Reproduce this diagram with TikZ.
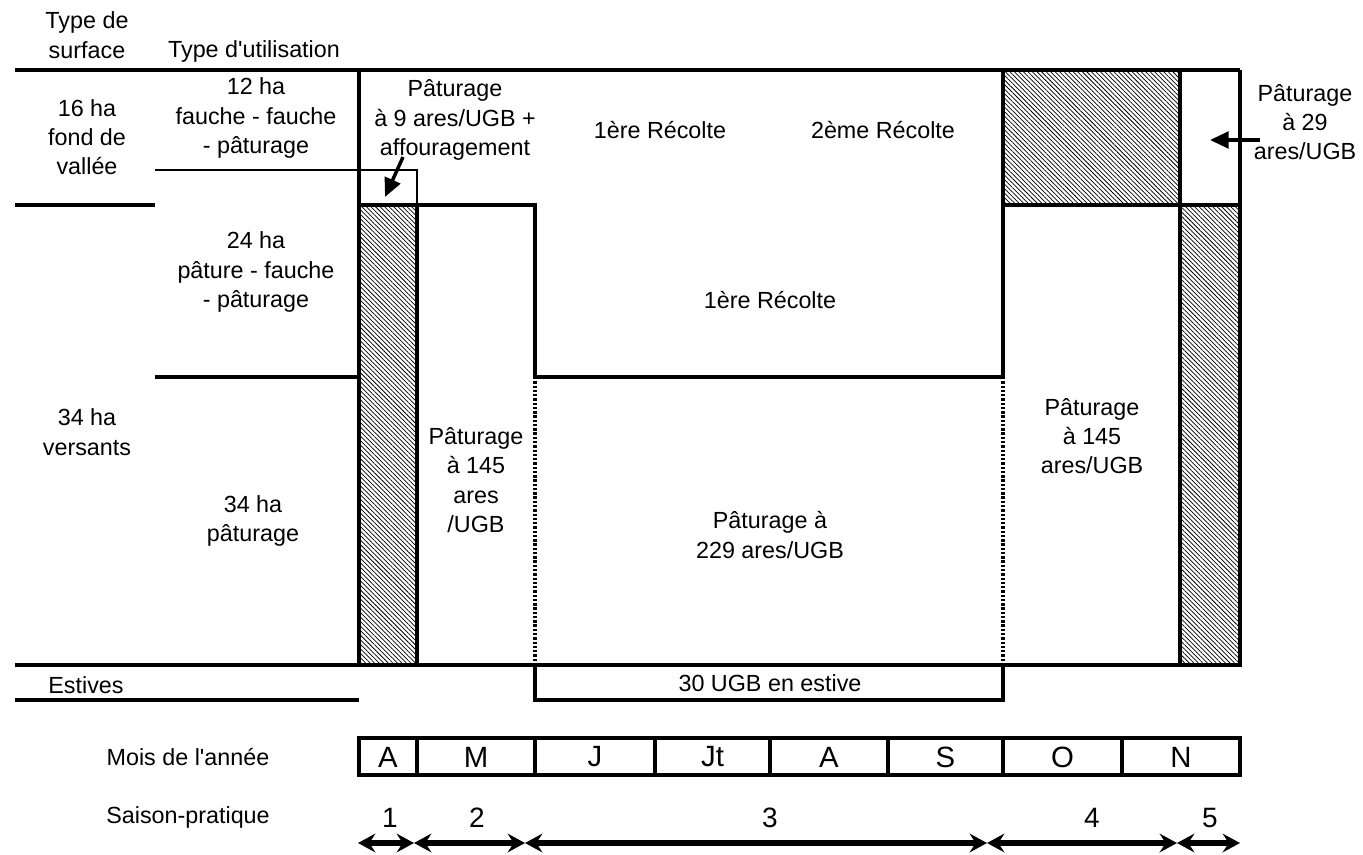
\documentclass[tikz,border=0pt]{standalone}
\usepackage{fontspec}
\setmainfont{Liberation Sans}
\usetikzlibrary{positioning, calc, arrows.meta, patterns.meta}
\definecolor{ink}{HTML}{000000}
\definecolor{paper}{HTML}{FFFFFF}
\newcommand{\LabF}{\fontsize{17.5}{22}\selectfont}
\newcommand{\MonthF}{\fontsize{22}{26}\selectfont}
\newcommand{\NumF}{\fontsize{21}{25}\selectfont}
\newcommand{\hatchbox}[4]{%
  \draw[ink, line width=2.7pt, pattern={Lines[angle=-45, distance=2.4pt, line width=0.55pt]}, pattern color=ink] (#1,#2) rectangle (#3,#4);
}
\tikzset{
  lab/.style={font=\LabF, text=ink, align=center, inner sep=0pt},
  heavy/.style={ink, line width=2.7pt},
  light/.style={ink, line width=2pt},
  dots/.style={ink, line width=2.7pt, dash pattern=on 1.8pt off 1.4pt},
  season/.style={ink, line width=3.8pt, {Stealth[length=13pt, width=14pt, inset=4.5pt]}-{Stealth[length=13pt, width=14pt, inset=4.5pt]}},
  pointer/.style={ink, line width=2.6pt, -{Triangle[length=14pt, width=12.5pt]}},
}

\begin{document}
\begin{tikzpicture}[x=0.75pt,y=-0.75pt]
\useasboundingbox[fill=paper] (0,0) rectangle (1363,854);
% headers and row labels
\node[lab] (hdSurf) at (87,35) {Type de\\surface};
\node[lab] (hdUse) at (254,51) {Type d\textquotesingle utilisation};
\node[lab] (fond16) at (87,137) {16 ha\\fond de\\vallée};
\node[lab] (fauche12) at (256,118) {12 ha\\fauche - fauche\\- pâturage};
\node[lab] (pature24) at (256,272) {24 ha\\pâture - fauche\\- pâturage};
\node[lab] (vers34) at (87,432) {34 ha\\versants};
\node[lab] (pat34) at (253,521) {34 ha\\pâturage};
\node[lab] (estives) at (86,685) {Estives};
% grid
\draw[heavy] (15,70) -- (1240,70);
\draw[heavy] (15,665) -- (1240,665);
\draw[heavy] (15,205) -- (155,205);
\draw[light] (155,170) -- (417,170) -- (417,205);
\draw[heavy] (155,377) -- (359,377);
\draw[heavy] (359,70) -- (359,665);
\draw[heavy] (359,205) -- (535,205) -- (535,377) -- (1003,377);
\draw[heavy] (1003,70) -- (1003,377);
\draw[dots] (535,377) -- (535,665);
\draw[dots] (1003,377) -- (1003,665);
\draw[heavy] (1003,205) -- (1240,205);
\draw[heavy] (1180,70) -- (1180,665);
\draw[heavy] (1240,70) -- (1240,665);
\hatchbox{359}{205}{417}{665}
\hatchbox{1003}{70}{1180}{205}
\hatchbox{1180}{205}{1240}{665}
\draw[heavy] (15,700) -- (359,700);
\draw[heavy] (535,665) rectangle (1003,700);
% cell texts
\node[lab] (pat9) at (455,120) {Pâturage\\à 9 ares/UGB +\\affouragement};
\node[lab] (recA) at (660,130) {1ère Récolte};
\node[lab] (recB) at (883,130) {2ème Récolte};
\node[lab] (pat29) at (1305,122) {Pâturage\\à 29\\ares/UGB};
\node[lab] (recC) at (770,300) {1ère Récolte};
\node[lab] (pat145a) at (476,480) {Pâturage\\à 145\\ares\\/UGB};
\node[lab] (pat229) at (770,535) {Pâturage à\\229 ares/UGB};
\node[lab] (pat145b) at (1092,436) {Pâturage\\à 145\\ares/UGB};
\node[lab] (estive30) at (770,683) {30 UGB en estive};
\coordinate (affTail) at (403,157);
\coordinate (affTip) at (385,197);
\draw[pointer] (affTail) -- (affTip);
\coordinate (tailB) at (1260,140);
\coordinate (tipB) at (1210,140);
\draw[pointer] (tailB) -- (tipB);
% months
\node[lab] (moisLab) at (188,757) {Mois de l\textquotesingle année};
\foreach \xa/\xb/\m [count=\i] in {359/417/A, 417/535/M, 535/655/J, 655/770/Jt, 770/888/A, 888/1003/S, 1003/1122/O, 1122/1240/N}{
  \draw[heavy] (\xa,738) rectangle (\xb,775);
  \node[font=\MonthF, text=ink, inner sep=0pt] (m\i) at ({(\xa+\xb)/2},757) {\m};
}
% seasons
\node[lab] (saisLab) at (188,817) {Saison-pratique};
\foreach \xa/\xb/\xn [count=\i] in {358/414/390, 414/525/477, 525/987/770, 987/1177/1092, 1177/1240/1210}{
  \coordinate (sa\i) at (\xa,843);
  \coordinate (sb\i) at (\xb,843);
  \draw[season] (sa\i) -- (sb\i);
  \node[font=\NumF, text=ink, inner sep=0pt] (n\i) at (\xn,818) {\i};
}
\end{tikzpicture}
\end{document}
